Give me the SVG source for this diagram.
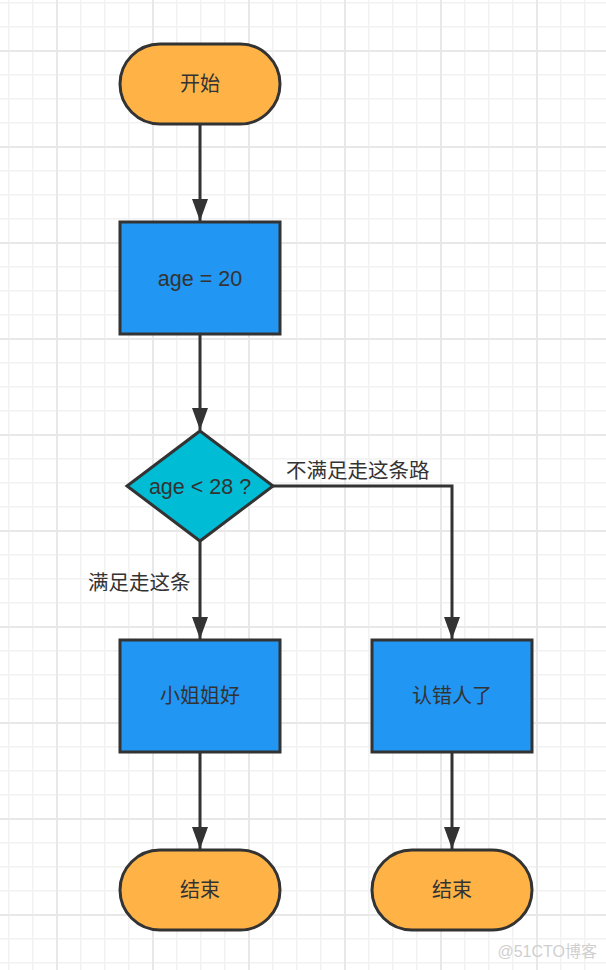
<svg xmlns="http://www.w3.org/2000/svg" width="606" height="970" viewBox="0 0 606 970">
<style>
.term{fill:#ffb347;stroke:#333;stroke-width:3}
.proc{fill:#2196f3;stroke:#333;stroke-width:3}
.dec{fill:#00bcd4;stroke:#333;stroke-width:3}
.t{font-family:"Liberation Sans","Noto Sans CJK SC",sans-serif;font-size:20px;fill:#333;text-anchor:middle;dominant-baseline:central}
.en{font-size:21.5px}
.lbl{font-family:"Liberation Sans","Noto Sans CJK SC",sans-serif;font-size:20.5px;fill:#333}
.edge{fill:none;stroke:#333;stroke-width:3}
</style>
<defs>
<pattern id="grid" patternUnits="userSpaceOnUse" x="56" y="50" width="96" height="96">
<rect x="0" y="0" width="96" height="96" fill="#fff"/>
<rect x="24" y="0" width="1.6" height="96" fill="#f2f2f2"/>
<rect x="48" y="0" width="1.6" height="96" fill="#f2f2f2"/>
<rect x="72" y="0" width="1.6" height="96" fill="#f2f2f2"/>
<rect x="0" y="24" width="96" height="1.6" fill="#f2f2f2"/>
<rect x="0" y="48" width="96" height="1.6" fill="#f2f2f2"/>
<rect x="0" y="72" width="96" height="1.6" fill="#f2f2f2"/>
<rect x="0" y="0" width="2" height="96" fill="#e8e8e8"/>
<rect x="0" y="0" width="96" height="2" fill="#e8e8e8"/>
</pattern>
<marker id="arr" markerUnits="userSpaceOnUse" markerWidth="22" markerHeight="16" refX="22" refY="8" orient="auto">
<path d="M0,0 L22,8 L0,16 Z" fill="#333"/>
</marker>
</defs>
<rect width="606" height="970" fill="url(#grid)"/>
<g id="connectors">
<line class="edge" x1="200" y1="124" x2="200" y2="221" marker-end="url(#arr)"/>
<line class="edge" x1="200" y1="334" x2="200" y2="430" marker-end="url(#arr)"/>
<line class="edge" x1="200" y1="541" x2="200" y2="639" marker-end="url(#arr)"/>
<polyline class="edge" points="273,486 452,486 452,639" marker-end="url(#arr)"/>
<line class="edge" x1="200" y1="753" x2="200" y2="849" marker-end="url(#arr)"/>
<line class="edge" x1="452" y1="753" x2="452" y2="849" marker-end="url(#arr)"/>
<text class="lbl" x="286" y="478">不满足走这条路</text>
<text class="lbl" x="88" y="590">满足走这条</text>
</g>
<g id="start">
<rect class="term" x="120" y="44" width="160" height="80" rx="40" ry="40"/>
<text class="t" x="200" y="84">开始</text>
</g>
<g id="assign">
<rect class="proc" x="120" y="222" width="160" height="112"/>
<text class="t en" x="200" y="279">age = 20</text>
</g>
<g id="decision">
<polygon class="dec" points="200,431 273,486 200,541 127,486"/>
<text class="t en" x="200" y="487">age &lt; 28 ?</text>
</g>
<g id="hello">
<rect class="proc" x="120" y="640" width="160" height="112"/>
<text class="t" x="200" y="696">小姐姐好</text>
</g>
<g id="wrong">
<rect class="proc" x="372" y="640" width="160" height="112"/>
<text class="t" x="452" y="696">认错人了</text>
</g>
<g id="end1">
<rect class="term" x="120" y="850" width="160" height="80" rx="40" ry="40"/>
<text class="t" x="200" y="890">结束</text>
</g>
<g id="end2">
<rect class="term" x="372" y="850" width="160" height="80" rx="40" ry="40"/>
<text class="t" x="452" y="890">结束</text>
</g>
<text x="597" y="957" text-anchor="end" font-family="Liberation Sans,'Noto Sans CJK SC',sans-serif" font-size="16" fill="#cfcfcf">@51CTO博客</text>
</svg>
